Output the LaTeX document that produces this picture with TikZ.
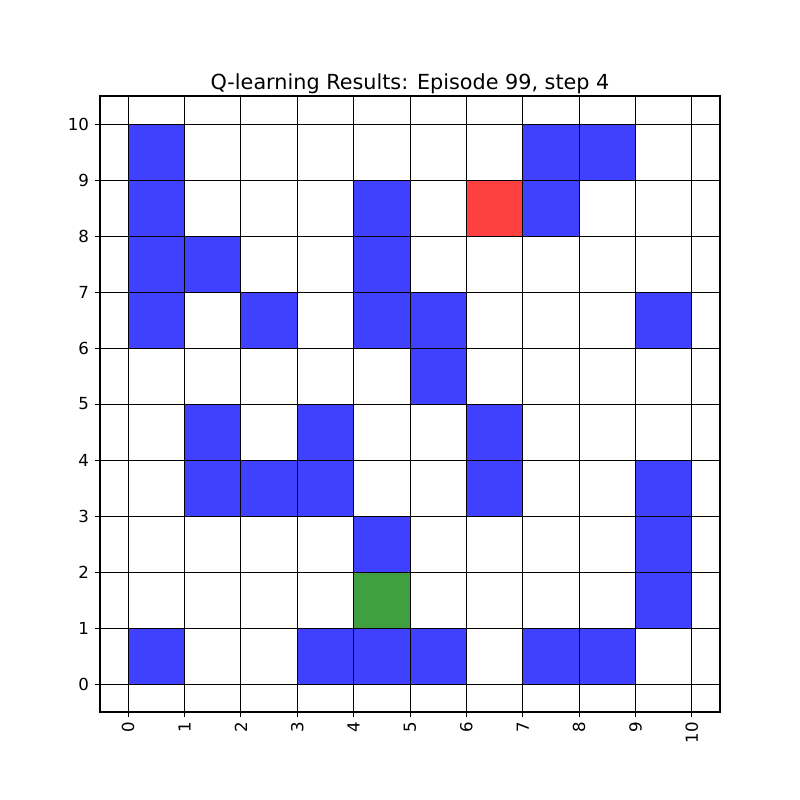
\documentclass[tikz,border=0pt]{standalone}
\usepackage{fontspec}
\setmainfont{DejaVu Sans}
\usetikzlibrary{positioning}
\definecolor{cellblue}{RGB}{64,64,255}
\definecolor{cellred}{RGB}{255,64,64}
\definecolor{cellgreen}{RGB}{64,160,64}
\tikzset{
  wall/.style={fill=cellblue},
  goal/.style={fill=cellred},
  agent/.style={fill=cellgreen},
  gridln/.style={black, line width=0.65pt},
  axframe/.style={black, line width=0.8pt},
  axtick/.style={black, line width=0.65pt},
  ticklbl/.style={font=\fontsize{12}{14}\selectfont, inner sep=0pt},
  ttl/.style={font=\fontsize{15}{18}\selectfont, inner sep=0pt}
}

\begin{document}
\begin{tikzpicture}[x=1.4316cm, y=1.4224cm]
  \useasboundingbox (-2.2742,-2.0714) rectangle (11.919,12.214);

  %% ── cells ───────────────────────────────────────────────
  \foreach \cx/\cy in {0/9,7/9,8/9, 0/8,4/8,7/8, 0/7,1/7,4/7,
                       0/6,2/6,4/6,5/6,9/6, 5/5, 1/4,3/4,6/4,
                       1/3,2/3,3/3,6/3,9/3, 4/2,9/2, 9/1,
                       0/0,3/0,4/0,5/0,7/0,8/0}
    \fill[wall] (\cx,\cy) rectangle ++(1,1);
  \fill[goal]  (6,8) rectangle ++(1,1);
  \fill[agent] (4,1) rectangle ++(1,1);

  %% ── grid + frame ────────────────────────────────────────
  \foreach \k in {0,...,10} {
    \draw[gridln] (\k,-0.5) -- (\k,10.5);
    \draw[gridln] (-0.5,\k) -- (10.5,\k);
  }
  \draw[axframe] (-0.5,-0.5) rectangle (10.5,10.5);

  %% ── ticks ───────────────────────────────────────────────
  \foreach \k in {0,...,10} {
    \draw[axtick] (\k,-0.5) -- ++(0,-3.5pt);
    \node[ticklbl, rotate=90, anchor=east] (xt\k) at (\k,-0.673) {\k};
    \draw[axtick] (-0.5,\k) -- ++(-3.5pt,0);
    \node[ticklbl, anchor=east] (yt\k) at (-0.69,\k) {\k};
  }

  %% ── title ───────────────────────────────────────────────
  \coordinate (axtop) at (5,10.5);
  \node[ttl, above=5pt of axtop, anchor=base] (title)
        {Q-learning Results: Episode 99, step 4};

\end{tikzpicture}
\end{document}
